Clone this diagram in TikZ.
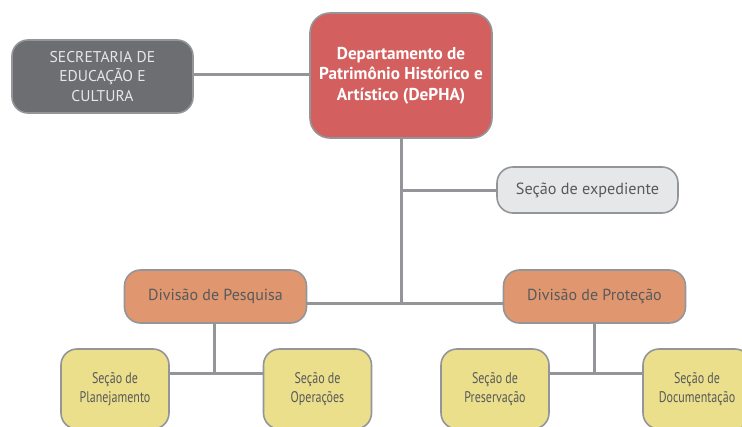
\documentclass[tikz,border=0pt]{standalone}
\usepackage{fontspec}
\setmainfont{PT Sans}
\newfontfamily\estreita[FakeStretch=0.78]{PT Sans}
\usepackage{tikz}
\usetikzlibrary{positioning, calc}
\definecolor{borda}{HTML}{939598}
\definecolor{linha}{HTML}{939598}
\definecolor{cinzaesc}{HTML}{6D6E71}
\definecolor{cinzacl}{HTML}{E6E7E8}
\definecolor{vermelho}{HTML}{D3605F}
\definecolor{laranja}{HTML}{E0976F}
\definecolor{amarelo}{HTML}{EBDF8C}
\definecolor{texto}{HTML}{58595B}

\begin{document}
\begin{tikzpicture}[x=1pt, y=-1pt,
    caixa/.style = {draw=borda, line width=1.6pt, rounded corners=16pt, align=center, inner sep=0pt},
    orgao/.style = {caixa, fill=cinzaesc, text=cinzacl, minimum width=181pt, minimum height=73pt, font=\fontsize{15.6}{19.5}\selectfont},
    depto/.style = {caixa, fill=vermelho, text=white, rounded corners=20pt, minimum width=182pt, minimum height=125pt, font=\fontsize{17.2}{20.5}\selectfont\bfseries},
    apoio/.style = {caixa, fill=cinzacl, text=texto, minimum width=181pt, minimum height=46pt, font=\fontsize{16.2}{18}\selectfont},
    divisao/.style = {caixa, fill=laranja, text=texto, minimum width=182pt, minimum height=53pt, font=\fontsize{16}{18}\selectfont},
    secao/.style = {caixa, fill=amarelo, text=texto, minimum width=108pt, minimum height=80pt, font=\fontsize{15.4}{18.5}\estreita},
    liga/.style = {draw=linha, line width=3pt}]
    \useasboundingbox (0,0) rectangle (742,426);
    \node[orgao] (sec) at (102.5,76.5) {SECRETARIA DE\\EDUCAÇÃO E\\CULTURA};
    \node[depto] (dep) at (401,75.5) {Departamento de\\Patrimônio Histórico e\\Artístico (DePHA)};
    \node[apoio] (exp) at (587.5,190) {Seção de expediente};
    \node[divisao] (pes) at (215.5,296.5) {Divisão de Pesquisa};
    \node[divisao] (pro) at (594.5,296.5) {Divisão de Proteção};
    \node[secao] (pla) at (115,389) {Seção de\\Planejamento};
    \node[secao] (ope) at (317.5,389) {Seção de\\Operações};
    \node[secao] (pre) at (495,389) {Seção de\\Preservação};
    \node[secao] (doc) at (697,389) {Seção de\\Documentação};
    \coordinate (jA) at (401,303);
    \coordinate (jB) at (214,373);
    \coordinate (jC) at (594,373);
    \draw[liga] (sec.east |- 0,74) -- (dep.west |- 0,74);
    \draw[liga] (dep.south) -- (jA);
    \draw[liga] (dep.south |- exp.west) -- (exp.west);
    \draw[liga] (pes.east |- jA) -- (pro.west |- jA);
    \draw[liga] (pes.south -| jB) -- (jB);
    \draw[liga] (pla.east |- jB) -- (ope.west |- jB);
    \draw[liga] (pro.south -| jC) -- (jC);
    \draw[liga] (pre.east |- jC) -- (doc.west |- jC);
\end{tikzpicture}
\end{document}
